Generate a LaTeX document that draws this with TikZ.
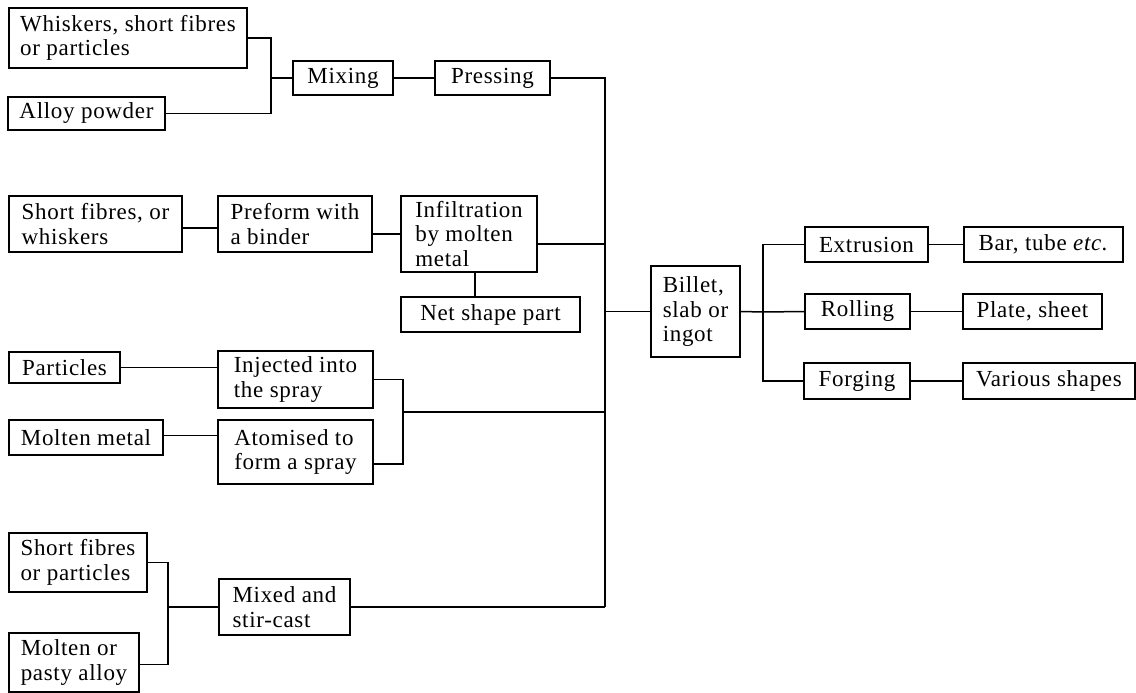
\documentclass[tikz,border=0pt]{standalone}
\usepackage{fontspec}
\setmainfont{Liberation Serif}[LetterSpace=3]
\begin{document}
\begin{tikzpicture}[x=1pt,y=-1pt,
  bx/.style={draw,line width=1.5pt,inner sep=0pt,anchor=center,align=left,
    font=\fontsize{23}{24.5}\selectfont},
  ln/.style={line width=1.5pt}]
\useasboundingbox (0,0) rectangle (1136,693);
\newcommand\bx[6]{%
  \pgfmathsetmacro\bw{#4-#2}%
  \pgfmathsetmacro\bh{#5-#3}%
  \node[bx,minimum width=\bw pt,minimum height=\bh pt]
    (#1) at ({(#2+#4)/2},{(#3+#5)/2}) {#6};}
% left column
\bx{wsp}{9}{8}{247}{68}{Whiskers, short fibres\\or particles}
\bx{ap}{8}{97}{165}{130}{Alloy powder}
\bx{mix}{293}{61}{393}{95}{Mixing}
\bx{press}{435}{61}{550}{95}{Pressing}
\bx{sfw}{9}{196}{182}{252}{Short fibres, or\\whiskers}
\bx{pre}{218}{196}{372}{252}{Preform with\\a binder}
\bx{inf}{401}{196}{537}{272}{Infiltration\\by molten\\metal}
\bx{net}{401}{297}{580}{332}{Net shape part}
\bx{par}{9}{352}{120}{383}{Particles}
\bx{inj}{218}{351}{373}{408}{Injected into\\the spray}
\bx{mm}{9}{420}{163}{455}{Molten metal}
\bx{ato}{218}{420}{373}{484}{Atomised to\\form a spray}
\bx{sfp}{9}{533}{147}{592}{Short fibres\\or particles}
\bx{mpa}{9}{633}{139}{692}{Molten or\\pasty alloy}
\bx{msc}{219}{579}{350}{635}{Mixed and\\stir-cast}
% right part
\bx{bil}{651}{266}{740}{357}{Billet,\\slab or\\ingot}
\bx{ext}{805}{227}{928}{262}{Extrusion}
\bx{bar}{964}{227}{1123}{262}{Bar, tube \textit{etc.}}
\bx{rol}{805}{294}{910}{329}{Rolling}
\bx{pla}{963}{294}{1102}{329}{Plate, sheet}
\bx{forg}{804}{363}{910}{399}{Forging}
\bx{var}{963}{363}{1135}{399}{Various shapes}
% junction coordinates
\coordinate (j1) at (271,78);
\coordinate (tt) at (605,78);
\coordinate (tb) at (605,607);
\coordinate (sj) at (403,412);
\coordinate (cj) at (168,607);
\coordinate (bj) at (763,312);
% connectors
\draw[ln] (wsp.east) -| (j1);
\draw[ln] (ap.east) -| (j1);
\draw[ln] (j1) -- (mix.west);
\draw[ln] (mix.east) -- (press.west);
\draw[ln] (press.east) -- (tt) -- (tb);
\draw[ln] ([yshift=-10pt]pre.east) -- ([yshift=-10pt]pre.east -| inf.west);
\draw[ln] ([yshift=-4pt]sfw.east) -- ([yshift=-4pt]sfw.east -| pre.west);
\draw[ln] ([yshift=-10pt]inf.east) -- ([yshift=-10pt]inf.east -| tt);
\draw[ln] ([xshift=6pt]inf.south) -- ([xshift=6pt]inf.south |- net.north);
\draw[ln] (bil.west -| tt) -- (bil.west);
\draw[ln] (bil.east) -- (bj) -- (rol.west);
\draw[ln] (ext.west) -| (bj);
\draw[ln] (forg.west) -| (bj);
\draw[ln] (ext.east) -- (bar.west);
\draw[ln] (rol.east) -- (pla.west);
\draw[ln] (forg.east) -- (var.west);
\draw[ln] (par.east) -- (par.east -| inj.west);
\draw[ln] ([yshift=2pt]mm.east) -- ([yshift=2pt]mm.east -| ato.west);
\draw[ln] (inj.east) -| (sj);
\draw[ln] ([yshift=-12pt]ato.east) -| (sj);
\draw[ln] (sj) -- (sj -| tt);
\draw[ln] (sfp.east) -| (cj);
\draw[ln] ([yshift=-2pt]mpa.east) -| (cj);
\draw[ln] (cj) -- (msc.west);
\draw[ln] (msc.east) -- (tb);
\end{tikzpicture}
\end{document}
